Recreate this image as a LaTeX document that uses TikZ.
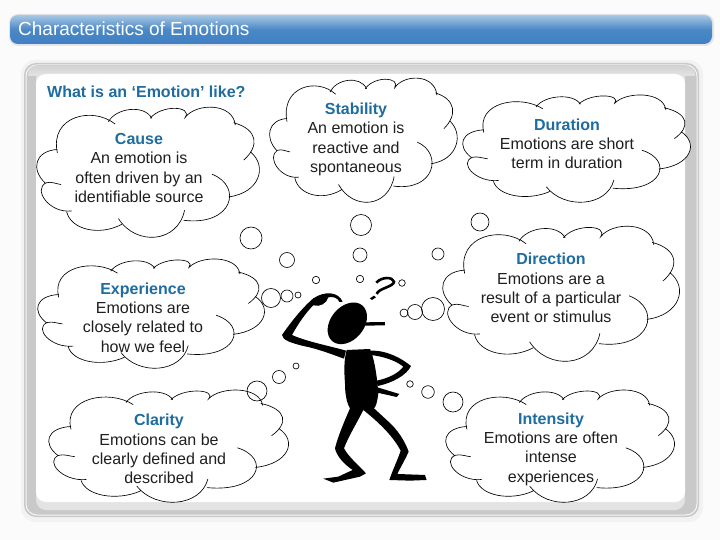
\documentclass[tikz,border=0pt]{standalone}
\usepackage{fontspec}
\setmainfont{Liberation Sans}
\definecolor{headblue}{HTML}{1F6C9F}
\definecolor{bartop}{HTML}{A8C8E4}
\definecolor{barmid}{HTML}{4A88C6}
\definecolor{barlow}{HTML}{3F80C4}
\definecolor{framegrey}{HTML}{C9C9C9}
\definecolor{pagetint}{HTML}{FBFBFC}
% #1 is -- for the filled outline, empty for the open strokes
\newcommand{\cloudpath}[1]{(64,140) .. controls (40,30) and (170,0) .. (237,54)
      #1 (217,47) .. controls (240,5) and (325,-5) .. (347,37)
      #1 (342,37) .. controls (375,-5) and (470,0) .. (447,34)
      .. controls (480,-10) and (590,-10) .. (597,57)
      #1 (592,50) .. controls (665,70) and (670,120) .. (622,162)
      #1 (642,137) .. controls (695,180) and (670,260) .. (577,272)
      #1 (527,204) .. controls (620,240) and (590,360) .. (442,342)
      #1 (445,312) .. controls (425,410) and (300,420) .. (247,337)
      #1 (257,354) .. controls (190,390) and (105,370) .. (92,317)
      #1 (107,314) .. controls (40,322) and (-10,250) .. (30,230)
      .. controls (45,225) and (60,233) .. (75,235)
      #1 (27,230) .. controls (-15,190) and (-5,135) .. (64,130)}
\tikzset{
  cloudline/.style={line width=0.65pt,black},
  bubble/.style={line width=0.65pt,black},
  cloudtext/.style={align=center,font=\fontsize{16}{19.4}\selectfont,text=black!88,inner sep=0pt},
  headtext/.style={font=\fontsize{16}{19.4}\selectfont\bfseries,text=headblue,inner sep=0pt},
  emocloud/.pic={
    \fill[white] \cloudpath{--};
    \draw[cloudline] \cloudpath{};
  }
}
\newcommand{\headline}[1]{{\bfseries\color{headblue}#1}}
\begin{document}
\begin{tikzpicture}[x=1pt,y=-1pt]
\useasboundingbox (0,0) rectangle (720,540);
\fill[pagetint] (0,0) rectangle (720,540);
% title bar
\fill[black!10,rounded corners=9pt] (9,14) rectangle (714,46);
\shade[top color=bartop,bottom color=barlow,middle color=barmid,rounded corners=8pt] (10,15) rectangle (712,44);
\node (title) at (18,29) [anchor=west,inner sep=0pt,text=white,font=\fontsize{19}{23}\selectfont] {Characteristics of Emotions};
% frame
\fill[black!5,rounded corners=14pt] (21,60) rectangle (703,522);
\fill[framegrey,rounded corners=12pt] (24,63) rectangle (699,517);
\draw[black!4,line width=1pt,rounded corners=11pt] (26,65) rectangle (697,515);
\shade[top color=black!18,bottom color=black!5,rounded corners=10pt] (28,65) rectangle (695,84);
\fill[framegrey] (28,76) rectangle (36,86) (685,76) rectangle (695,86);
\fill[black!11,rounded corners=10pt] (36,480) rectangle (685,510);
\fill[white,rounded corners=10pt] (36,74) rectangle (685,502);
\node (question) at (47,92) [anchor=west,headtext] {What is an ‘Emotion’ like?};
% clouds
\foreach \x/\y/\w/\h in {36/106/222/131,269/77/187/125,462/94/227/108,442/225/236/136,37/258/226/110,48/389/239/113,445/389/228/113}
  \pic[xscale=\w/665,yscale=\h/392] at (\x,\y) {emocloud};
% bubbles
\foreach \x/\y/\r in {251/238/11,287/260/7.5,361/225/10.5,360/255/7,480/222/9,438/254/6,316/280/3.7,360/279/3.7,402/283/3.3,298/295/3,287/296/6,271/298/9.5,404/313/4,415/312/7.5,433/309/11.5,296/366/3,279/377/6.5,257/391/10,410/384/3.3,428/392/6.3,453/402/10}
  \draw[bubble] (\x,\y) circle (\r);
\node (cause) at (139,168) [cloudtext] {\headline{Cause}\\An emotion is\\often driven by an\\identifiable source};
\node (stability) at (356,139.5) [cloudtext] {\headline{Stability}\\An emotion is\\reactive and\\spontaneous};
\node (duration) at (567,143.7) [cloudtext] {\headline{Duration}\\Emotions are short\\term in duration};
\node (direction) at (551,288) [cloudtext] {\headline{Direction}\\Emotions are a\\result of a particular\\event or stimulus};
\node (experience) at (143,317.5) [cloudtext] {\headline{Experience}\\Emotions are\\closely related to\\how we feel};
\node (clarity) at (159,449) [cloudtext] {\headline{Clarity}\\Emotions can be\\clearly defined and\\described};
\node (intensity) at (551,449) [cloudtext] {\headline{Intensity}\\Emotions are often\\intense\\experiences};
% thinking figure
\begin{scope}[shift={(270,260)},x=0.3333pt,y=-0.3333pt]
\fill[rotate around={50:(232,190)}] (232,190) ellipse (70 and 50);
\fill (285,187) -- (345,186) -- (345,196) -- (285,197) -- cycle;
\fill (218,125) .. controls (205,95) and (165,92) .. (130,115)
  .. controls (95,145) and (60,190) .. (36,225) .. controls (38,240) and (60,248) .. (100,258)
  .. controls (150,268) and (190,285) .. (222,296) -- (228,272)
  .. controls (180,258) and (110,245) .. (66,225)
  .. controls (85,190) and (110,155) .. (130,136) .. controls (150,142) and (170,130) .. (175,112)
  .. controls (190,108) and (205,115) .. (208,126) -- cycle;
\fill (230,270) -- (300,267) .. controls (315,300) and (322,360) .. (325,400)
  .. controls (322,425) and (318,440) .. (312,445) -- (350,480)
  .. controls (385,510) and (405,545) .. (416,575)
  .. controls (405,600) and (390,625) .. (382,642) -- (465,645) -- (470,660) -- (420,662) -- (358,660)
  .. controls (370,625) and (385,595) .. (392,572)
  .. controls (370,530) and (330,490) .. (280,450)
  .. controls (260,490) and (235,530) .. (222,565)
  .. controls (235,590) and (265,615) .. (288,640)
  -- (270,650) -- (190,668) -- (160,656) -- (205,650) -- (248,630)
  .. controls (225,615) and (200,590) .. (195,565)
  .. controls (205,525) and (225,480) .. (240,445)
  .. controls (228,425) and (225,395) .. (225,370)
  .. controls (222,330) and (222,300) .. (230,270) -- cycle;
\fill (300,272) .. controls (350,270) and (395,295) .. (423,318)
  .. controls (410,345) and (370,368) .. (323,378) -- (320,362)
  .. controls (355,355) and (385,340) .. (400,320)
  .. controls (375,300) and (335,288) .. (300,285) -- cycle;
\fill (322,382) -- (388,402) -- (380,411) -- (322,398) -- cycle;
\draw[line width=2.6pt] (319,68) .. controls (335,50) and (368,50) .. (372,65) .. controls (372,80) and (325,85) .. (320,102);
\fill (300,115) -- (312,107) -- (318,112) -- (306,120) -- cycle;
\end{scope}
\end{tikzpicture}
\end{document}
